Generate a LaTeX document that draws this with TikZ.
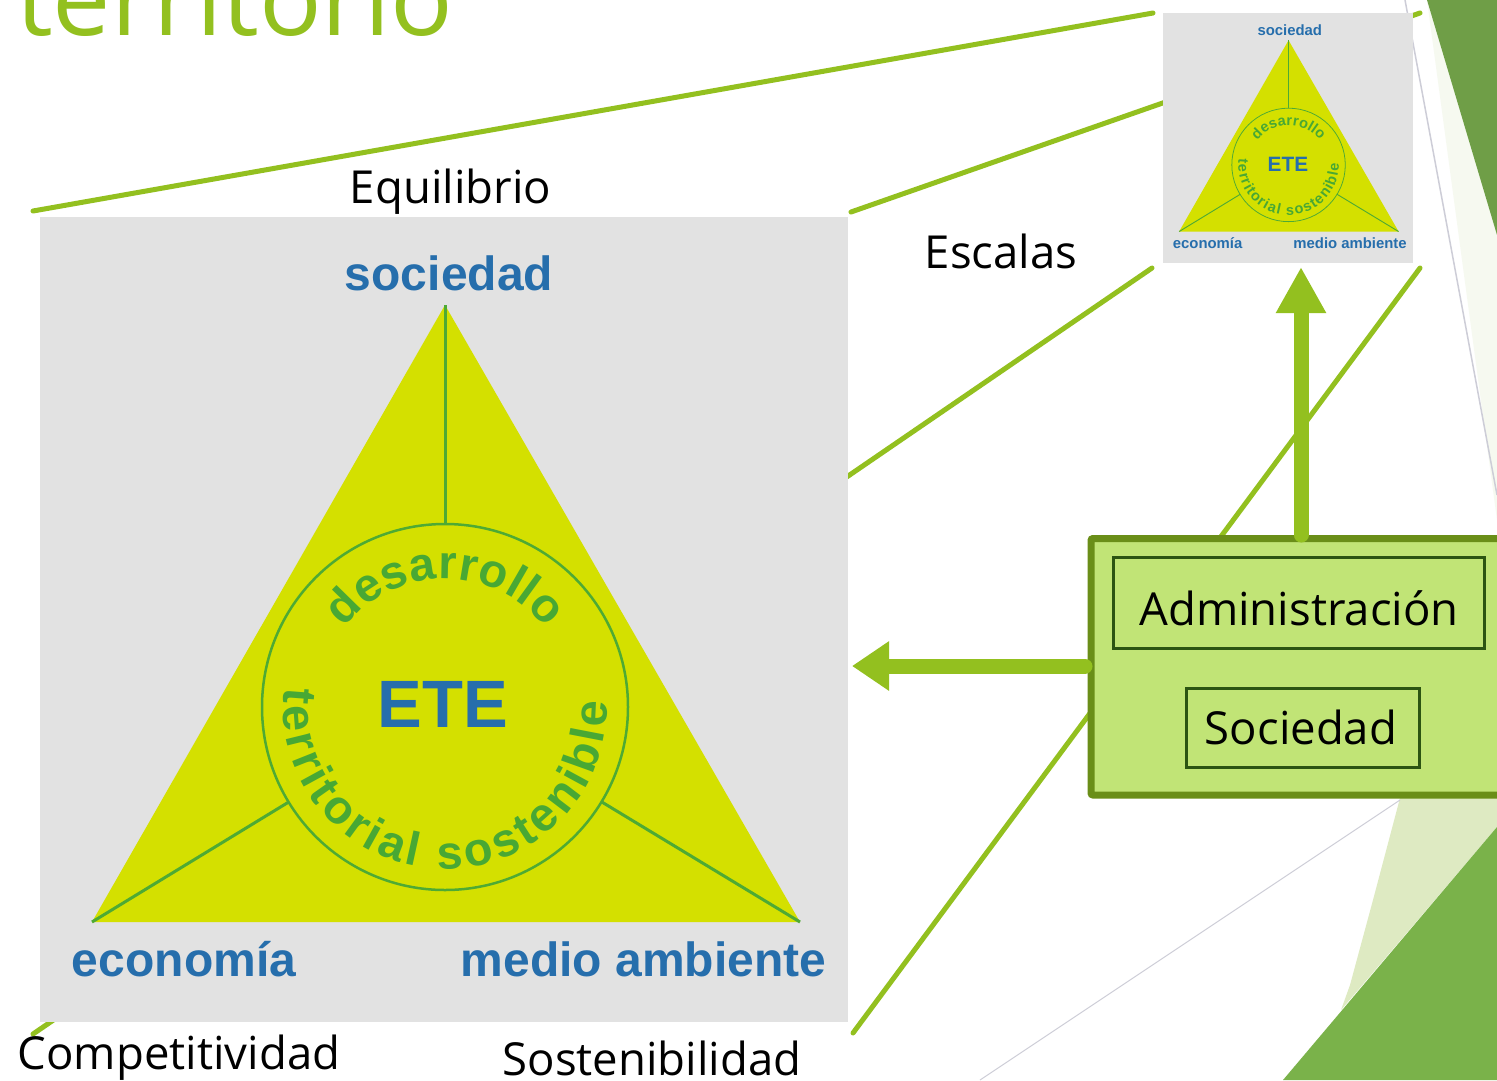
\documentclass[tikz,border=0pt]{standalone}
\usepackage{fontspec}
\setmainfont{Open Sans}
\newfontfamily\arialf{Liberation Sans}
\usetikzlibrary{decorations.text,arrows.meta}
\definecolor{etegray}{RGB}{226,226,226}
\definecolor{eteyellow}{RGB}{212,224,0}
\definecolor{etegreen}{RGB}{78,170,52}
\definecolor{etetext}{RGB}{72,168,52}
\definecolor{eteblue}{RGB}{38,110,172}
\definecolor{lime}{RGB}{147,192,31}
\definecolor{boxfill}{RGB}{193,228,118}
\definecolor{boxborder}{RGB}{106,142,24}
\definecolor{innerborder}{RGB}{44,84,18}
\definecolor{decodark}{RGB}{111,158,71}
\definecolor{decomid}{RGB}{122,178,74}
\definecolor{decolight}{RGB}{222,234,194}
\definecolor{decotint}{RGB}{246,249,240}
\definecolor{decoline}{RGB}{205,205,215}
\tikzset{
  zoomline/.style={lime, line width=5pt, line cap=round},
  fatarrow/.style={lime, line width=15pt, line cap=round},
  blacklabel/.style={anchor=base, inner sep=0pt, text=black, font=\fontsize{45.5}{50}\selectfont},
  innerbox/.style={draw=innerborder, line width=3pt, inner sep=0pt, outer sep=0pt},
}
% #1 prefix, #2 x, #3 y (pixels, downward), #4 scale
\newcommand\etediagram[4]{%
\begin{scope}[shift={(#2,-#3)},scale=#4]
  \pgfmathsetmacro\etelab{48*#4}%
  \pgfmathsetmacro\etebig{67*#4}%
  \pgfmathsetmacro\etedec{47*#4}%
  \def\etedecofont{\arialf\bfseries\fontsize{\etedec}{\etedec}\selectfont}%
  \fill[etegray] (0,0) rectangle (808,-805);
  \coordinate (#1A) at (405,-88);
  \coordinate (#1L) at (52,-705);
  \coordinate (#1R) at (760,-705);
  \coordinate (#1C) at (405,-490);
  \fill[eteyellow] (#1A) -- (#1L) -- (#1R) -- cycle;
  \draw[etegreen, line width={3pt*#4}] (#1A) -- ++(0,-219);
  \draw[etegreen, line width={3pt*#4}] (#1C) ++(211.3:183) -- (#1L);
  \draw[etegreen, line width={3pt*#4}] (#1C) ++(-31.2:183) -- (#1R);
  \draw[etegreen, line width={2.5pt*#4}] (#1C) circle[radius=183];
  \path[decorate, decoration={text along path, text color=etetext,
        text={|\etedecofont|desarrollo}, text align={fit to path}}]
     (#1C) ++(142:128) arc[start angle=142, end angle=38, radius=128];
  \path[decorate, decoration={text along path, text color=etetext,
        text={|\etedecofont|territorial sostenible}, text align={fit to path}}]
     (#1C) ++(173:162) arc[start angle=173, end angle=362, radius=162];
  \node[anchor=center, inner sep=0pt, text=eteblue,
        font=\arialf\bfseries\fontsize{\etebig}{\etebig}\selectfont] (#1ete) at (403,-487) {ETE};
  \node[anchor=base, inner sep=0pt, text=eteblue,
        font=\arialf\bfseries\fontsize{\etelab}{\etelab}\selectfont] (#1soc) at (409,-73) {sociedad};
  \node[anchor=base, inner sep=0pt, text=eteblue,
        font=\arialf\bfseries\fontsize{\etelab}{\etelab}\selectfont] (#1eco) at (144,-759) {economía};
  \node[anchor=base, inner sep=0pt, text=eteblue,
        font=\arialf\bfseries\fontsize{\etelab}{\etelab}\selectfont] (#1med) at (603.5,-759) {medio ambiente};
\end{scope}}
\begin{document}
\begin{tikzpicture}[x=1pt,y=1pt]
\useasboundingbox (0,0) rectangle (1497,-1080);
\fill[white] (0,0) rectangle (1497,-1080);
% theme decoration on the right
\fill[decotint] (1427,0) -- (1497,-235) -- (1497,-520) -- cycle;
\fill[decodark] (1427,0) -- (1497,0) -- (1497,-235) -- cycle;
\draw[decoline, line width=1.5pt] (1405,0) -- (1497,-495);
\fill[decolight] (1400,-798) -- (1497,-798) -- (1497,-827) -- (1341,-1010) -- (1350,-985) -- (1373,-900) -- cycle;
\fill[decomid] (1283,-1080) -- (1497,-827) -- (1497,-1080) -- cycle;
\draw[decoline, line width=1pt] (980,-1080) -- (1400,-800);
% title
\node[anchor=base west, inner sep=0pt, text=lime, font=\fontsize{104}{104}\selectfont] (title) at (16,-35) {territorio};
% zoom lines
\coordinate (l1a) at (33,-211);   \coordinate (l1b) at (1153,-13);
\coordinate (l2a) at (851,-212);  \coordinate (l2b) at (1420,-13);
\coordinate (l3a) at (33,-1034);  \coordinate (l3b) at (1152,-268);
\coordinate (l4a) at (853,-1033); \coordinate (l4b) at (1420,-268);
\draw[zoomline] (l1a) -- (l1b);
\draw[zoomline] (l2a) -- (l2b);
\draw[zoomline] (l3a) -- (l3b);
\draw[zoomline] (l4a) -- (l4b);
% diagrams
\etediagram{b}{40}{217}{1}
\etediagram{s}{1163}{13}{0.31}
% labels
\node[blacklabel] (equilibrio) at (450.5,-203) {Equilibrio};
\node[blacklabel] (escalas) at (1001,-268) {Escalas};
\node[blacklabel] (competitividad) at (179,-1069) {Competitividad};
\node[blacklabel] (sostenibilidad) at (652,-1075) {Sostenibilidad};
% box
\node[draw=boxborder, fill=boxfill, line width=7pt, rounded corners=2pt, inner sep=0pt, outer sep=0pt,
      minimum width=419pt, minimum height=256.5pt, anchor=north west] (box) at (1091,-538.5) {};
\node[innerbox, minimum width=371pt, minimum height=91pt] (adminbox) at (1298.5,-602.5) {};
\node[blacklabel] (admin) at (1299,-625) {Administración};
\node[innerbox, minimum width=233pt, minimum height=79pt] (socbox) at (1302.5,-727.5) {};
\node[blacklabel] (soc) at (1301,-744) {Sociedad};
% arrows
\coordinate (upstart) at (1301,-535);   \coordinate (uptip) at (1301,-267);
\coordinate (leftstart) at (1085,-666); \coordinate (lefttip) at (852,-666);
\draw[fatarrow, -{Triangle[length=46pt,width=47pt]}] (upstart) -- (uptip);
\draw[fatarrow, -{Triangle[length=37pt,width=47pt]}] (leftstart) -- (lefttip);
\end{tikzpicture}
\end{document}
